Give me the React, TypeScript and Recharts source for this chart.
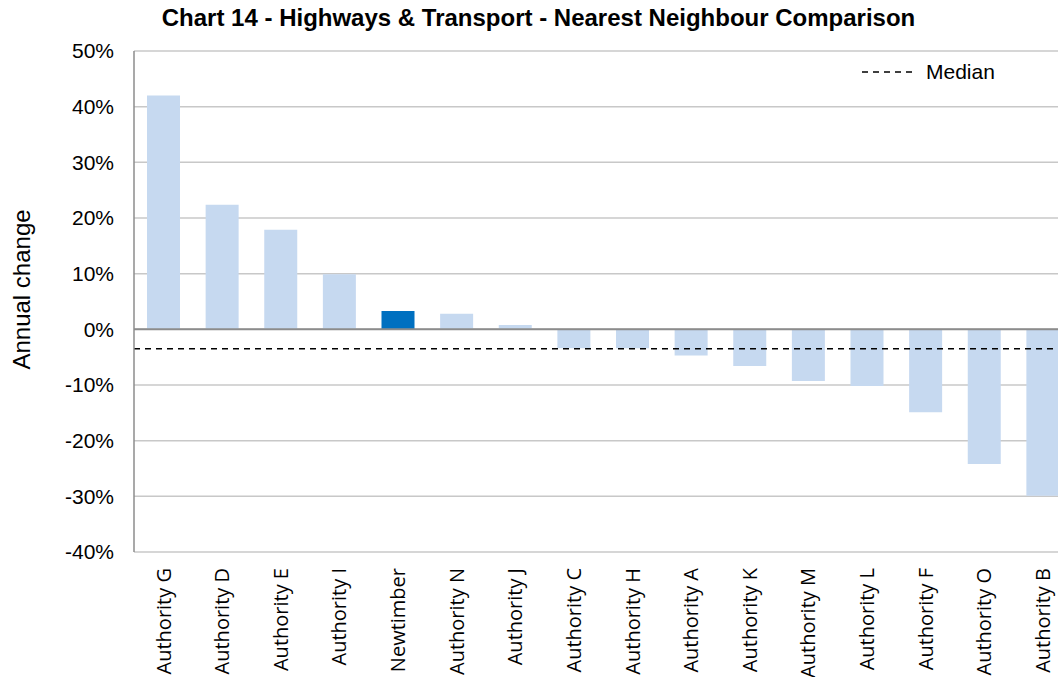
import React from 'react';
import { BarChart, Bar, XAxis, YAxis, CartesianGrid, ReferenceLine, Cell, Label } from 'recharts';

const categories = ['Authority G', 'Authority D', 'Authority E', 'Authority I', 'Newtimber', 'Authority N', 'Authority J', 'Authority C', 'Authority H', 'Authority A', 'Authority K', 'Authority M', 'Authority L', 'Authority F', 'Authority O', 'Authority B'];
const annualChange = [0.42, 0.224, 0.179, 0.099, 0.033, 0.028, 0.008, -0.034, -0.034, -0.047, -0.066, -0.093, -0.102, -0.149, -0.242, -0.299];
const highlight = 'Newtimber';
const median = -0.035;
const medianLabel = 'Median';
const yTicks = [-0.4, -0.3, -0.2, -0.1, 0, 0.1, 0.2, 0.3, 0.4, 0.5];

const data = categories.map((name, i) => ({ name, value: annualChange[i] }));

const FONT = '"Liberation Sans", Arial, sans-serif';
const XFONT = '"Open Sans", "Liberation Sans", sans-serif';

const XTick = (props: any) => {
  const { x, y, payload } = props;
  const ty = y + 10;
  return (
    <text x={x} y={ty} transform={`rotate(-90, ${x}, ${ty})`} textAnchor="end" dy="0.36em" fontSize={20} fontFamily={XFONT} fill="#000">
      {payload.value}
    </text>
  );
};

export default function App() {
  return (
    <div style={{ position: 'fixed', left: 0, top: 0, width: 1058, height: 677, overflow: 'hidden', background: '#fff' }}>
      <div style={{ position: 'absolute', left: 0, top: 4, width: 1077, textAlign: 'center', fontFamily: FONT, fontWeight: 'bold', fontSize: 24, color: '#000' }}>
        Chart 14 - Highways &amp; Transport - Nearest Neighbour Comparison
      </div>
      <BarChart width={1080} height={677} data={data} margin={{ top: 51, right: 8, left: 0, bottom: 0 }} barSize={33}>
        <CartesianGrid vertical={false} stroke="#c8c8c8" strokeWidth={1.5} />
        <XAxis dataKey="name" axisLine={false} tickLine={false} interval={0} tick={<XTick />} tickMargin={0} height={125} />
        <YAxis
          domain={[-0.4, 0.5]}
          ticks={yTicks}
          width={134}
          axisLine={{ stroke: '#8c8c8c', strokeWidth: 1.5 }}
          tickLine={false}
          tickMargin={14}
          tick={{ fontSize: 21, fontFamily: FONT, fill: '#000' }}
          tickFormatter={(v: number) => `${Math.round(v * 100)}%`}
        >
          <Label value="Annual change" angle={-90} position="center" dx={-46} dy={-12} style={{ fontSize: 24, fontFamily: FONT, fill: '#000', textAnchor: 'middle' }} />
        </YAxis>
        <Bar dataKey="value" isAnimationActive={false}>
          {data.map((d) => (
            <Cell key={d.name} fill={d.name === highlight ? '#0070c0' : '#c6d9f0'} />
          ))}
        </Bar>
        <ReferenceLine y={0} stroke="#8c8c8c" strokeWidth={2} />
        <ReferenceLine y={median} stroke="#000" strokeWidth={1.5} strokeDasharray="6 5" />
      </BarChart>
      <div style={{ position: 'absolute', left: 862, top: 60, display: 'flex', alignItems: 'center', fontFamily: FONT, fontSize: 21, color: '#000' }}>
        <svg width={54} height={10} style={{ marginRight: 10 }}>
          <line x1={0} y1={5} x2={54} y2={5} stroke="#000" strokeWidth={1.5} strokeDasharray="6 5" />
        </svg>
        <span>{medianLabel}</span>
      </div>
    </div>
  );
}
